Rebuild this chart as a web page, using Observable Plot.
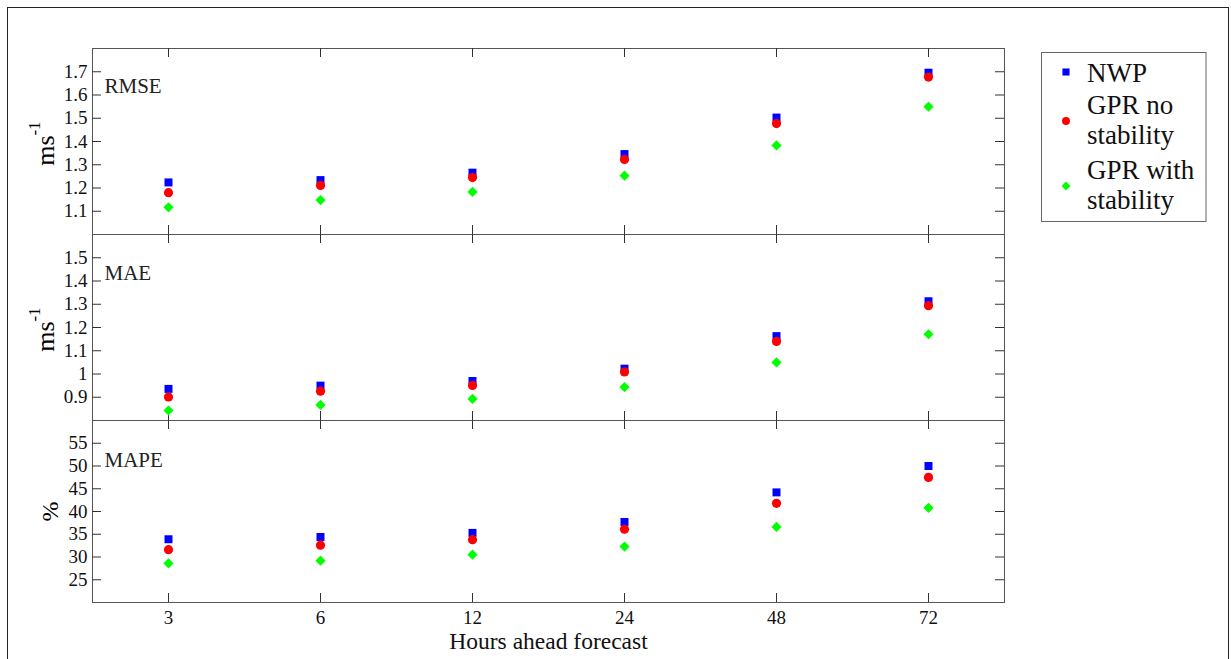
<!DOCTYPE html>
<html>
<head>
<meta charset="utf-8">
<script src="https://cdn.jsdelivr.net/npm/d3@7"></script>
<script src="https://cdn.jsdelivr.net/npm/@observablehq/plot@0.6"></script>
<style>
  html, body { margin: 0; padding: 0; background: #fff; }
  #wrap { position: relative; width: 1231px; height: 659px; overflow: hidden; font-family: "Liberation Serif", "Times New Roman", serif; }
  #wrap svg { font-family: "Liberation Serif", "Times New Roman", serif; }
  #wrap svg text { font-family: "Liberation Serif", "Times New Roman", serif; }
  #outer { position: absolute; left: 7px; top: 7px; width: 1222px; height: 660px; border: 1.5px solid #222; border-bottom: none; box-sizing: border-box; }
</style>
</head>
<body>
<div id="wrap"><div id="outer"></div></div>
<script>
// ---- data ----
const hours = ["3", "6", "12", "24", "48", "72"];
const seriesNames = ["NWP", "GPR no stability", "GPR with stability"];
const seriesColors = ["#0000ff", "#ff0000", "#00ff00"];

const rmseNWP      = [1.224, 1.234, 1.266, 1.346, 1.503, 1.696];
const rmseNoStab   = [1.180, 1.211, 1.245, 1.323, 1.477, 1.677];
const rmseWithStab = [1.117, 1.148, 1.183, 1.253, 1.383, 1.550];

const maeNWP       = [0.936, 0.950, 0.970, 1.023, 1.163, 1.313];
const maeNoStab    = [0.901, 0.926, 0.951, 1.009, 1.140, 1.294];
const maeWithStab  = [0.843, 0.867, 0.893, 0.944, 1.050, 1.171];

const mapeNWP      = [33.9, 34.4, 35.3, 37.7, 44.2, 50.0];
const mapeNoStab   = [31.6, 32.6, 33.8, 36.1, 41.8, 47.5];
const mapeWithStab = [28.6, 29.2, 30.5, 32.3, 36.6, 40.8];

const rmseTicks = [1.1, 1.2, 1.3, 1.4, 1.5, 1.6, 1.7];
const maeTicks  = [0.9, 1.0, 1.1, 1.2, 1.3, 1.4, 1.5];
const mapeTicks = [25, 30, 35, 40, 45, 50, 55];
const rmseDomain = [1.0, 1.8];
const maeDomain  = [0.8, 1.6];
const mapeDomain = [20, 60];

const xTitle = "Hours ahead forecast";

// ---- layout ----
const W = 1231, ML = 92, MR = 1231 - 1004;
const FW = W - ML - MR;
const TICK = 9;
const FONT = '"Liberation Serif", "Times New Roman", serif';
const tickColor = "#333";

function tickFmt(v) { return Number.isInteger(v) ? String(v) : v.toFixed(1); }

function panel({top, height, mt, mb, domain, ticks, vals, name, nameDy, ylabel, sup, showX}) {
  const FH = height - mt - mb;
  const marks = [
    Plot.frame({stroke: "#555", strokeWidth: 1}),
    Plot.tickY(ticks, {y: d => d, insetRight: FW - TICK, stroke: tickColor}),
    Plot.tickY(ticks, {y: d => d, insetLeft: FW - TICK, stroke: tickColor}),
    Plot.tickX(hours, {x: d => d, insetBottom: FH - TICK, stroke: tickColor}),
    Plot.tickX(hours, {x: d => d, insetTop: FH - TICK, stroke: tickColor}),
    Plot.axisY(ticks, {anchor: "left", tickSize: 0, tickPadding: 5, fontSize: 19, tickFormat: tickFmt, label: null, fill: "#111"}),
    Plot.text([name], {frameAnchor: "top-left", dx: 12, dy: nameDy, textAnchor: "start", lineAnchor: "bottom", fontSize: 21, fill: "#222"}),
    Plot.text([ylabel], {frameAnchor: "left", dx: sup ? -39 : -35, dy: sup ? 9 : 0, rotate: -90, textAnchor: "middle", lineAnchor: "bottom", fontSize: sup ? 26 : 24, fill: "#000"}),
    Plot.dot(hours, {x: hours, y: vals[0], symbol: "square", r: 4.5, fill: seriesColors[0]}),
    Plot.dot(hours, {x: hours, y: vals[1], symbol: "circle", r: 4.6, fill: seriesColors[1]}),
    Plot.dot(hours, {x: hours, y: vals[2], symbol: "diamond2", r: 4.6, fill: seriesColors[2]})
  ];
  if (sup) {
    marks.push(Plot.text([sup], {frameAnchor: "left", dx: -53, dy: -13, rotate: -90, textAnchor: "middle", lineAnchor: "bottom", fontSize: 17, fill: "#000"}));
  }
  if (showX) {
    marks.push(Plot.axisX(hours, {anchor: "bottom", tickSize: 0, tickPadding: 8, fontSize: 19, label: null, fill: "#111"}));
    marks.push(Plot.text([xTitle], {frameAnchor: "bottom", dy: 46, textAnchor: "middle", lineAnchor: "bottom", fontSize: 23.5, fill: "#111"}));
  }
  const svg = Plot.plot({
    width: W, height, marginLeft: ML, marginRight: MR, marginTop: mt, marginBottom: mb,
    style: {fontFamily: FONT, background: "none", overflow: "visible"},
    x: {type: "point", domain: hours, padding: 0.5, axis: null},
    y: {domain, axis: null},
    marks
  });
  svg.style.position = "absolute";
  svg.style.top = top + "px";
  svg.style.left = "0px";
  svg.setAttribute("font-family", FONT);
  return svg;
}

const wrap = document.getElementById("wrap");
wrap.appendChild(panel({top: 0, height: 236, mt: 48, mb: 2, domain: rmseDomain, ticks: rmseTicks,
  vals: [rmseNWP, rmseNoStab, rmseWithStab], name: "RMSE", nameDy: 44, ylabel: "ms", sup: "-1"}));
wrap.appendChild(panel({top: 232, height: 190, mt: 2, mb: 2, domain: maeDomain, ticks: maeTicks,
  vals: [maeNWP, maeNoStab, maeWithStab], name: "MAE", nameDy: 45, ylabel: "ms", sup: "-1"}));
wrap.appendChild(panel({top: 418, height: 241, mt: 2, mb: 57, domain: mapeDomain, ticks: mapeTicks,
  vals: [mapeNWP, mapeNoStab, mapeWithStab], name: "MAPE", nameDy: 46, ylabel: "%", sup: null, showX: true}));

// ---- legend ----
const legend = d3.select(wrap).append("svg")
  .attr("width", W).attr("height", 659)
  .style("position", "absolute").style("left", "0px").style("top", "0px")
  .attr("font-family", FONT);
legend.append("rect").attr("x", 1041.5).attr("y", 52.5).attr("width", 164.5).attr("height", 169)
  .attr("fill", "#fff").attr("stroke", "#666").attr("stroke-width", 1);
const legendItems = [
  {lines: ["NWP"], baselines: [82], my: 72, sym: d3.symbolSquare, size: 50},
  {lines: ["GPR no", "stability"], baselines: [114, 144], my: 121, sym: d3.symbolCircle, size: 50},
  {lines: ["GPR with", "stability"], baselines: [179, 209], my: 186, sym: d3.symbolDiamond2, size: 50}
];
legendItems.forEach((it, i) => {
  legend.append("path").attr("d", d3.symbol(it.sym, it.size)())
    .attr("transform", `translate(1066,${it.my})`).attr("fill", seriesColors[i]);
  it.lines.forEach((t, j) => {
    legend.append("text").attr("x", 1087).attr("y", it.baselines[j])
      .attr("font-size", 27).attr("fill", "#111").text(t);
  });
});
</script>
</body>
</html>
